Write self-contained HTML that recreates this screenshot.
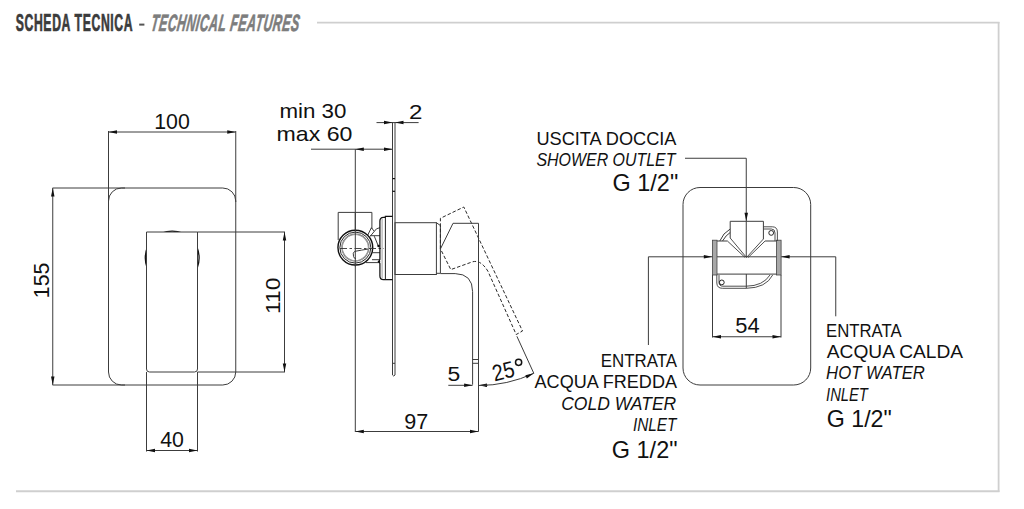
<!DOCTYPE html>
<html><head><meta charset="utf-8"><style>
html,body{margin:0;padding:0;background:#fff;width:1024px;height:509px;overflow:hidden}
svg{display:block;font-family:"Liberation Sans",sans-serif}
</style></head><body>
<svg width="1024" height="509" viewBox="0 0 1024 509">
<line x1="317" y1="22.6" x2="999.5" y2="22.6" stroke="#cfcfcf" stroke-width="1.6" />
<line x1="998.6" y1="22" x2="998.6" y2="492" stroke="#cfcfcf" stroke-width="1.8" />
<line x1="16" y1="491.3" x2="999.5" y2="491.3" stroke="#cfcfcf" stroke-width="2" />
<text id="title1" transform="translate(15.7,30.8) scale(0.52,1)" font-size="23.5" font-weight="bold" fill="#3b3b3b" stroke="#3b3b3b" stroke-width="0.7" letter-spacing="1.2">SCHEDA TECNICA</text>
<rect x="139.2" y="23.6" width="5.2" height="2" fill="#555"/>
<text id="title2" transform="translate(150.2,30.8) skewX(-8) scale(0.52,1)" font-size="23.5" font-weight="bold" font-style="italic" fill="#7d7d7d" stroke="#7d7d7d" stroke-width="0.7" letter-spacing="1.07">TECHNICAL FEATURES</text>
<rect x="108.5" y="188" width="127.25" height="197" rx="13" fill="none" stroke="#3c3c3c" stroke-width="1"/>
<circle cx="172.2" cy="258" r="26.9" fill="none" stroke="#111" stroke-width="1.3"/>
<path d="M146.5,232 H197.5 V369 Q197.5,372 194.5,372 H149.5 Q146.5,372 146.5,369 Z" fill="#fff" stroke="#3c3c3c" stroke-width="1"/>
<line x1="108.5" y1="131" x2="108.5" y2="202" stroke="#3c3c3c" stroke-width="1" />
<line x1="235.75" y1="131" x2="235.75" y2="202" stroke="#3c3c3c" stroke-width="1" />
<line x1="108.5" y1="132" x2="235.75" y2="132" stroke="#3c3c3c" stroke-width="1" />
<polygon points="108.50,132.00 117.00,130.25 117.00,133.75" fill="#111"/>
<polygon points="235.75,132.00 227.25,133.75 227.25,130.25" fill="#111"/>
<line x1="52.5" y1="188" x2="125" y2="188" stroke="#3c3c3c" stroke-width="1" />
<line x1="52.5" y1="385" x2="125" y2="385" stroke="#3c3c3c" stroke-width="1" />
<line x1="52.75" y1="188" x2="52.75" y2="385" stroke="#3c3c3c" stroke-width="1" />
<polygon points="52.75,188.00 54.50,196.50 51.00,196.50" fill="#111"/>
<polygon points="52.75,385.00 51.00,376.50 54.50,376.50" fill="#111"/>
<line x1="197.5" y1="232" x2="285" y2="232" stroke="#3c3c3c" stroke-width="1" />
<line x1="197.5" y1="372" x2="285" y2="372" stroke="#3c3c3c" stroke-width="1" />
<line x1="284.5" y1="232" x2="284.5" y2="372" stroke="#3c3c3c" stroke-width="1" />
<polygon points="284.50,232.00 286.25,240.50 282.75,240.50" fill="#111"/>
<polygon points="284.50,372.00 282.75,363.50 286.25,363.50" fill="#111"/>
<line x1="146.5" y1="372" x2="146.5" y2="451.5" stroke="#3c3c3c" stroke-width="1" />
<line x1="197.5" y1="372" x2="197.5" y2="451.5" stroke="#3c3c3c" stroke-width="1" />
<line x1="146.5" y1="450.5" x2="197.5" y2="450.5" stroke="#3c3c3c" stroke-width="1" />
<polygon points="146.50,450.50 155.00,448.75 155.00,452.25" fill="#111"/>
<polygon points="197.50,450.50 189.00,452.25 189.00,448.75" fill="#111"/>
<line x1="376.5" y1="122.6" x2="418.6" y2="122.6" stroke="#3c3c3c" stroke-width="1" />
<polygon points="392.50,122.60 384.00,124.35 384.00,120.85" fill="#111"/>
<polygon points="395.00,122.60 403.50,120.85 403.50,124.35" fill="#111"/>
<line x1="311" y1="149.2" x2="392.5" y2="149.2" stroke="#3c3c3c" stroke-width="1" />
<polygon points="355.30,149.20 363.80,147.45 363.80,150.95" fill="#111"/>
<polygon points="392.50,149.20 384.00,150.95 384.00,147.45" fill="#111"/>
<line x1="355.3" y1="149.2" x2="355.3" y2="432" stroke="#3c3c3c" stroke-width="1" />
<path d="M392.5,122 V375 Q393.7,377 395,375 V122" fill="none" stroke="#3c3c3c" stroke-width="1"/>
<line x1="392.5" y1="363.3" x2="395" y2="363.3" stroke="#3c3c3c" stroke-width="1" />
<line x1="392.5" y1="178.6" x2="395" y2="178.6" stroke="#111" stroke-width="1.2" />
<line x1="392.5" y1="191.3" x2="395" y2="191.3" stroke="#111" stroke-width="1.2" />
<path d="M338.2,240 V212.4 H371.9 V229" fill="none" stroke="#3c3c3c" stroke-width="1"/>
<path d="M367.7,235.2 L371.4,227.7 L374.3,231.4 Q376,228 379.9,227.7 M370,236.5 L374.3,231.4 M370,235.7 H380 M374.3,236.2 L378.5,246.5 M372.5,252.7 H380 M372,259.7 H380 M366,262.6 H380" fill="none" stroke="#3c3c3c" stroke-width="1"/>
<circle cx="378.6" cy="246" r="1.3" fill="#111"/>
<circle cx="379" cy="261.6" r="1.2" fill="#111"/>
<circle cx="355.35" cy="247.6" r="17.4" fill="#fff" stroke="#111" stroke-width="1.4"/>
<circle cx="355.35" cy="247.6" r="15.5" fill="none" stroke="#111" stroke-width="0.9"/>
<circle cx="355.35" cy="247.6" r="13.3" fill="none" stroke="#666" stroke-width="1.5"/>
<circle cx="355.35" cy="247.6" r="13.3" fill="none" stroke="#fff" stroke-width="0.4"/>
<line x1="340" y1="248.5" x2="384" y2="248.5" stroke="#333" stroke-width="0.9" stroke-dasharray="7 2.5 2.5 2.5"/>
<path d="M354.6,251.4 Q352.5,252.5 353.5,256.5 Q354.5,259 356,258.8 M354.6,251.4 Q362,250 368.3,249" fill="none" stroke="#3c3c3c" stroke-width="1"/>
<line x1="355.3" y1="212.4" x2="355.3" y2="266.5" stroke="#3c3c3c" stroke-width="1" />
<path d="M392.5,216.4 H385.4 V217.4 H383.5 Q379.9,217.6 379.9,221 V259.5 Q378.6,261.5 379.9,263.5 V276 Q379.9,279.6 383.5,279.6 H392.5" fill="none" stroke="#111" stroke-width="1.25"/>
<line x1="382.1" y1="219" x2="382.1" y2="278" stroke="#888" stroke-width="0.8" />
<line x1="385.4" y1="216.4" x2="385.4" y2="279.6" stroke="#222" stroke-width="1.0" />
<rect x="395" y="222.7" width="41.4" height="51.8" fill="none" stroke="#3c3c3c" stroke-width="1"/>
<path d="M436.4,222.7 L440.4,225.5 V273.3 H436.4" fill="none" stroke="#3c3c3c" stroke-width="1"/>
<path d="M440.4,248.8 V218.3 L463.8,207 L522.5,331 L516.2,334.5 L488,271.4 Q480,258 470.3,262.6 L450.8,269.6 L440.4,248.8" fill="none" stroke="#2a2a2a" stroke-width="1" stroke-dasharray="3.5 2"/>
<path d="M440.4,249 L453,223.3 H478.5 V431.5" fill="none" stroke="#3c3c3c" stroke-width="1"/>
<path d="M440.4,273.6 H455.2 Q472.6,274 472.6,291.6 V384.7" fill="none" stroke="#3c3c3c" stroke-width="1"/>
<line x1="472.6" y1="359.5" x2="478.5" y2="359.5" stroke="#3c3c3c" stroke-width="1" />
<line x1="472.6" y1="363.3" x2="478.5" y2="363.3" stroke="#3c3c3c" stroke-width="1" />
<line x1="516.9" y1="336.3" x2="533.8" y2="373.3" stroke="#3c3c3c" stroke-width="1" />
<line x1="448.3" y1="385.3" x2="472.6" y2="385.3" stroke="#3c3c3c" stroke-width="1" />
<polygon points="472.60,385.30 464.10,387.05 464.10,383.55" fill="#111"/>
<polygon points="478.50,385.30 487.00,383.55 487.00,387.05" fill="#111"/>
<circle cx="486" cy="385.2" r="1.3" fill="#111"/>
<path d="M478.5,385.5 A131.6,131.6 0 0 0 533.8,373.3" fill="none" stroke="#3c3c3c" stroke-width="1"/>
<polygon points="533.80,373.30 526.84,378.48 525.36,375.31" fill="#111"/>
<text x="0" y="0" font-size="23" text-anchor="start" font-weight="normal" fill="#111" textLength="22" lengthAdjust="spacingAndGlyphs" transform="translate(494.5,381.5) rotate(-14)">25</text>
<circle cx="518.6" cy="362.3" r="3.1" fill="none" stroke="#111" stroke-width="1.5"/>
<line x1="355.3" y1="431.5" x2="478.5" y2="431.5" stroke="#3c3c3c" stroke-width="1" />
<polygon points="355.30,431.50 363.80,429.75 363.80,433.25" fill="#111"/>
<polygon points="478.50,431.50 470.00,433.25 470.00,429.75" fill="#111"/>
<line x1="685" y1="158.25" x2="746.25" y2="158.25" stroke="#3c3c3c" stroke-width="1" />
<line x1="746.25" y1="158.25" x2="746.25" y2="221.3" stroke="#3c3c3c" stroke-width="1" />
<polygon points="746.25,221.30 744.50,212.80 748.00,212.80" fill="#111"/>
<rect x="683" y="187.5" width="127.7" height="197.5" rx="17" fill="none" stroke="#3c3c3c" stroke-width="1"/>
<line x1="648.4" y1="256.8" x2="835.75" y2="256.8" stroke="#3c3c3c" stroke-width="1" />
<line x1="648.4" y1="256.8" x2="648.4" y2="345" stroke="#3c3c3c" stroke-width="1" />
<line x1="835.75" y1="256.8" x2="835.75" y2="316.3" stroke="#3c3c3c" stroke-width="1" />
<polygon points="712.30,256.80 703.80,258.55 703.80,255.05" fill="#111"/>
<polygon points="781.10,256.80 789.60,255.05 789.60,258.55" fill="#111"/>
<rect x="712.4" y="240.2" width="4.6" height="34.8" fill="#a8a8a8" stroke="#444" stroke-width="0.8"/>
<rect x="776.4" y="240.2" width="4.7" height="34.8" fill="#a8a8a8" stroke="#444" stroke-width="0.8"/>
<line x1="712.5" y1="275" x2="712.5" y2="337.5" stroke="#3c3c3c" stroke-width="1" />
<line x1="781" y1="275" x2="781" y2="337.5" stroke="#3c3c3c" stroke-width="1" />
<line x1="712.5" y1="336.75" x2="781" y2="336.75" stroke="#3c3c3c" stroke-width="1" />
<polygon points="712.50,336.75 721.00,335.00 721.00,338.50" fill="#111"/>
<polygon points="781.00,336.75 772.50,338.50 772.50,335.00" fill="#111"/>
<path d="M730.2,238 V221.3 H763.4 V239" fill="none" stroke="#3c3c3c" stroke-width="1"/>
<path d="M727.4,241 L745.1,257.5 M730.2,238 L746.5,257.5 M765.1,241 L748.1,257.5 M763.4,239 L746.5,257.5" fill="none" stroke="#3c3c3c" stroke-width="0.9"/>
<line x1="746.25" y1="221.3" x2="746.25" y2="257" stroke="#3c3c3c" stroke-width="1" />
<line x1="717" y1="241" x2="727.4" y2="241" stroke="#3c3c3c" stroke-width="1" />
<line x1="765.1" y1="241" x2="776.4" y2="241" stroke="#3c3c3c" stroke-width="1" />
<line x1="717" y1="274.1" x2="776.4" y2="274.1" stroke="#3c3c3c" stroke-width="1" />
<path d="M719.8,241 Q723,233 730.2,229 M722.5,241 Q726,235 730.2,232.5" fill="none" stroke="#3c3c3c" stroke-width="1"/>
<path d="M763.4,226.8 H772.6 Q777.4,227 777.4,232 V241 M763.4,229 H771.5 Q775,229 775,233 V241" fill="none" stroke="#3c3c3c" stroke-width="0.9"/>
<circle cx="771.2" cy="232.9" r="2.4" fill="none" stroke="#111" stroke-width="0.9"/>
<path d="M716.8,275 V283 Q717,288.3 722.4,288.3 H746.3 Q766,288 772.7,275 M719,275 V282 Q719,286.2 723,286.2 H746.3 Q763,286 770,275" fill="none" stroke="#3c3c3c" stroke-width="0.9"/>
<circle cx="721.8" cy="282.4" r="2.4" fill="none" stroke="#111" stroke-width="0.9"/>
<line x1="746.3" y1="274" x2="746.3" y2="288.3" stroke="#3c3c3c" stroke-width="1" />
<text id="t_100" x="172.05" y="129.10" font-size="21.51" text-anchor="middle" fill="#111" textLength="35.55" lengthAdjust="spacingAndGlyphs">100</text>
<text id="t_155" transform="translate(49.10,280.50) rotate(-90)" font-size="21.65" text-anchor="middle" fill="#111" textLength="35.31" lengthAdjust="spacingAndGlyphs">155</text>
<text id="t_110" transform="translate(280.40,295.85) rotate(-90)" font-size="21.11" text-anchor="middle" fill="#111" textLength="36.20" lengthAdjust="spacingAndGlyphs">110</text>
<text id="t_40" x="172.05" y="447.10" font-size="21.78" text-anchor="middle" fill="#111" textLength="23.73" lengthAdjust="spacingAndGlyphs">40</text>
<text id="t_min30" x="279.40" y="118.05" font-size="19.93" text-anchor="start" fill="#111" textLength="67.04" lengthAdjust="spacingAndGlyphs">min 30</text>
<text id="t_max60" x="276.50" y="141.40" font-size="20.43" text-anchor="start" fill="#111" textLength="75.88" lengthAdjust="spacingAndGlyphs">max 60</text>
<text id="t_2" x="408.90" y="118.90" font-size="21.11" text-anchor="start" fill="#111" textLength="13.44" lengthAdjust="spacingAndGlyphs">2</text>
<text id="t_5" x="453.90" y="381.40" font-size="21.11" text-anchor="middle" fill="#111" textLength="12.75" lengthAdjust="spacingAndGlyphs">5</text>
<text id="t_97" x="416.20" y="428.50" font-size="21.38" text-anchor="middle" fill="#111" textLength="24.00" lengthAdjust="spacingAndGlyphs">97</text>
<text id="t_54" x="747.55" y="333.20" font-size="21.78" text-anchor="middle" fill="#111" textLength="24.32" lengthAdjust="spacingAndGlyphs">54</text>
<text id="t_uscita" x="536.40" y="144.90" font-size="17.88" text-anchor="start" fill="#111" textLength="140.10" lengthAdjust="spacingAndGlyphs">USCITA DOCCIA</text>
<text id="t_shower" x="536.40" y="166.35" font-size="18.30" text-anchor="start" fill="#111" font-style="italic" textLength="139.10" lengthAdjust="spacingAndGlyphs">SHOWER OUTLET</text>
<text id="t_g1" x="678.20" y="190.50" font-size="23.70" text-anchor="end" fill="#111" textLength="65.62" lengthAdjust="spacingAndGlyphs">G 1/2"</text>
<text id="t_r_entrata" x="826.00" y="336.50" font-size="18.30" text-anchor="start" fill="#111" textLength="75.62" lengthAdjust="spacingAndGlyphs">ENTRATA</text>
<text id="t_r_acqua" x="826.80" y="358.40" font-size="18.30" text-anchor="start" fill="#111" textLength="136.31" lengthAdjust="spacingAndGlyphs">ACQUA CALDA</text>
<text id="t_r_hot" x="826.10" y="379.30" font-size="18.16" text-anchor="start" fill="#111" font-style="italic" textLength="98.81" lengthAdjust="spacingAndGlyphs">HOT WATER</text>
<text id="t_r_inlet" x="826.10" y="400.50" font-size="18.58" text-anchor="start" fill="#111" font-style="italic" textLength="41.79" lengthAdjust="spacingAndGlyphs">INLET</text>
<text id="t_r_g" x="826.70" y="427.20" font-size="23.70" text-anchor="start" fill="#111" textLength="65.06" lengthAdjust="spacingAndGlyphs">G 1/2"</text>
<text id="t_l_entrata" x="677.00" y="367.10" font-size="18.30" text-anchor="end" fill="#111" textLength="76.26" lengthAdjust="spacingAndGlyphs">ENTRATA</text>
<text id="t_l_acqua" x="677.00" y="388.30" font-size="18.30" text-anchor="end" fill="#111" textLength="142.41" lengthAdjust="spacingAndGlyphs">ACQUA FREDDA</text>
<text id="t_l_cold" x="676.20" y="409.80" font-size="17.74" text-anchor="end" fill="#111" font-style="italic" textLength="115.01" lengthAdjust="spacingAndGlyphs">COLD WATER</text>
<text id="t_l_inlet" x="676.50" y="431.40" font-size="17.74" text-anchor="end" fill="#111" font-style="italic" textLength="43.51" lengthAdjust="spacingAndGlyphs">INLET</text>
<text id="t_l_g" x="677.50" y="457.50" font-size="23.70" text-anchor="end" fill="#111" textLength="65.65" lengthAdjust="spacingAndGlyphs">G 1/2"</text>
</svg>
</body></html>
